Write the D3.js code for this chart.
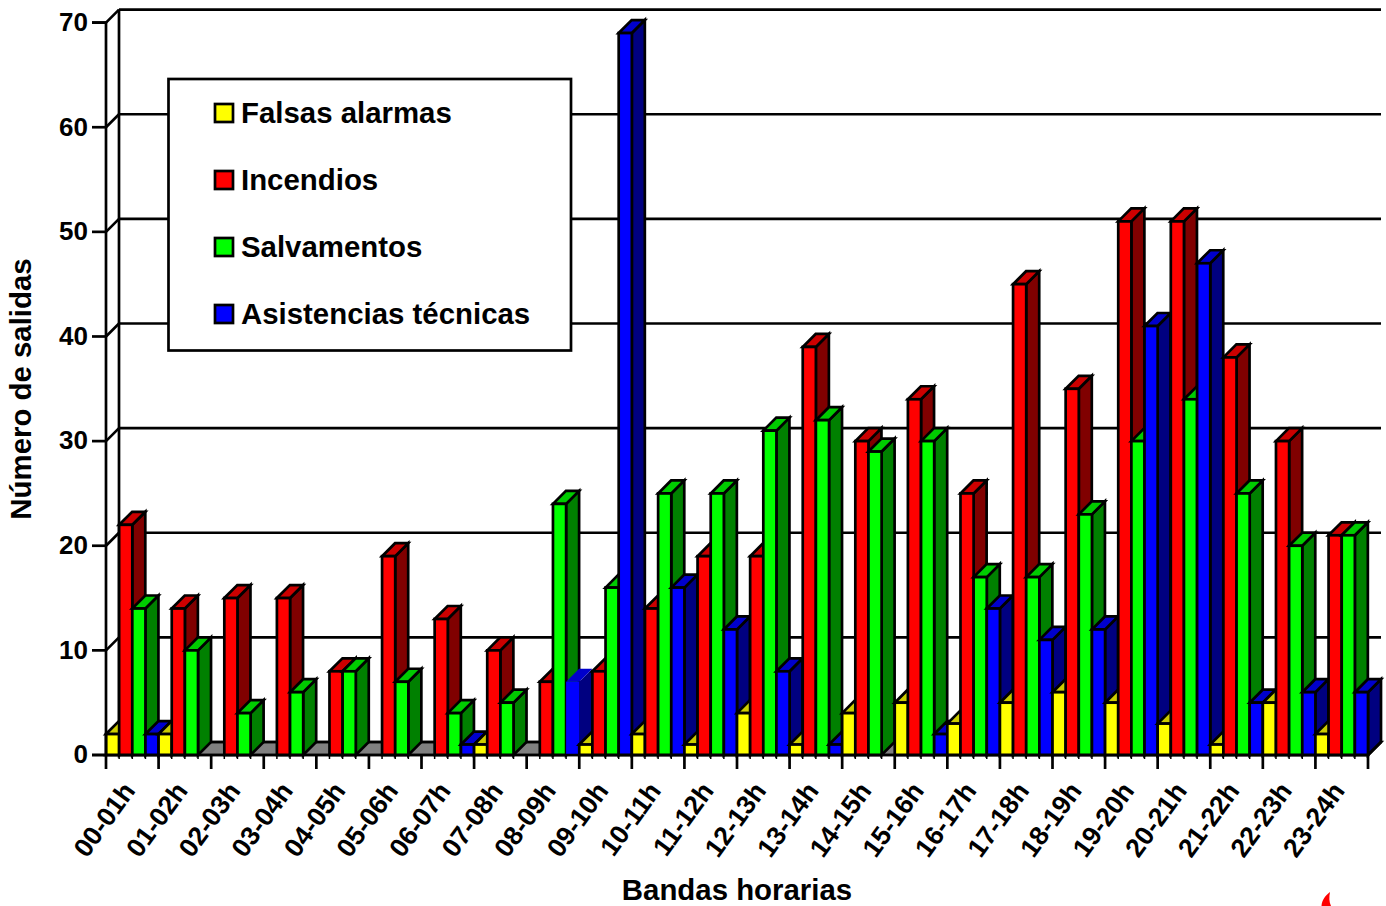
<!DOCTYPE html>
<html>
<head>
<meta charset="utf-8">
<script src="https://cdn.jsdelivr.net/npm/d3@7"></script>
<style>
    html, body { margin: 0; padding: 0; background: #fff; overflow: hidden; }
    text { font-family: "Liberation Sans", Arial, sans-serif; font-weight: bold; fill: #000; }
</style>
</head>
<body>
<svg id="chart" width="1386" height="906"></svg>
<script>
const bandas = ["00-01h", "01-02h", "02-03h", "03-04h", "04-05h", "05-06h", "06-07h", "07-08h",
    "08-09h", "09-10h", "10-11h", "11-12h", "12-13h", "13-14h", "14-15h", "15-16h",
    "16-17h", "17-18h", "18-19h", "19-20h", "20-21h", "21-22h", "22-23h", "23-24h"];

const series = ["Falsas alarmas", "Incendios", "Salvamentos", "Asistencias técnicas"];

const falsasAlarmas = [2, 2, 0, 0, 0, 0, 0, 1, 0, 1, 2, 1, 4, 1, 4, 5, 3, 5, 6, 5, 3, 1, 5, 2];
const incendios = [22, 14, 15, 15, 8, 19, 13, 10, 7, 8, 14, 19, 19, 39, 30, 34, 25, 45, 35, 51, 51, 38, 30, 21];
const salvamentos = [14, 10, 4, 6, 8, 7, 4, 5, 24, 16, 25, 25, 31, 32, 29, 30, 17, 17, 23, 30, 34, 25, 20, 21];
const asistencias = [2, 0, 0, 0, 0, 0, 1, 0, 7, 69, 16, 12, 8, 1, 0, 2, 14, 11, 12, 41, 47, 5, 6, 6];

const valores = [falsasAlarmas, incendios, salvamentos, asistencias];
const colores = ["#ffff00", "#ff0000", "#00ff00", "#0000ff"];
const coloresTapa = ["#cccc00", "#cc0000", "#00cc00", "#0000cc"];
const coloresLado = ["#808000", "#800000", "#008000", "#000080"];

const svg = d3.select("#chart");

// plot frame, the 3D depth is the same in x and y
const plotLeft = 106, plotRight = 1368, plotBottom = 755, plotTop = 22.6;
const depth = 13;
const lineW = 2.7;

const x = d3.scaleBand().domain(bandas).range([plotLeft, plotRight]);
const xSerie = d3.scaleBand().domain(series).range([0, x.bandwidth()]);
const xLinear = d3.scaleLinear().domain([0, bandas.length]).range([plotLeft, plotRight]);
const y = d3.scaleLinear().domain([0, 70]).range([plotBottom, plotTop]);

const poly = pts => pts.map(p => p.join(",")).join(" ");

// floor
svg.append("polygon")
    .attr("points", poly([[plotLeft, plotBottom], [plotLeft + depth, plotBottom - depth], [plotRight + depth, plotBottom - depth], [plotRight, plotBottom]]))
    .attr("fill", "#808080")
    .attr("stroke", "#000")
    .attr("stroke-width", lineW);

// back wall grid and the slanted joins on the left wall
const yTicks = y.ticks(7);
svg.append("g").selectAll("line.grid")
    .data(yTicks)
    .join("line")
    .attr("class", "grid")
    .attr("x1", plotLeft + depth).attr("x2", plotRight + depth)
    .attr("y1", d => y(d) - depth).attr("y2", d => y(d) - depth)
    .attr("stroke", "#000").attr("stroke-width", lineW);

svg.append("g").selectAll("line.join")
    .data(yTicks)
    .join("line")
    .attr("class", "join")
    .attr("x1", plotLeft).attr("x2", plotLeft + depth)
    .attr("y1", d => y(d)).attr("y2", d => y(d) - depth)
    .attr("stroke", "#000").attr("stroke-width", lineW);

svg.append("line")
    .attr("x1", plotLeft + depth).attr("x2", plotLeft + depth)
    .attr("y1", y(70) - depth).attr("y2", y(0) - depth)
    .attr("stroke", "#000").attr("stroke-width", lineW);

// bars, painted from left to right so the later ones cover the earlier ones
const barras = d3.merge(bandas.map((b, i) => series.map((s, j) => ({ banda: b, serie: s, j: j, valor: valores[j][i] }))))
    .filter(d => d.valor > 0);

const barra = svg.append("g").selectAll("g")
    .data(barras)
    .join("g")
    // the blue 08-09h bar has no outline in the original
    .attr("stroke", d => (d.banda === "08-09h" && d.j === 3) ? "none" : "#000")
    .attr("stroke-width", lineW);

barra.append("polygon")
    .attr("fill", d => coloresLado[d.j])
    .attr("points", d => {
        const x1 = x(d.banda) + xSerie(d.serie) + xSerie.bandwidth();
        return poly([[x1, y(d.valor)], [x1 + depth, y(d.valor) - depth], [x1 + depth, y(0) - depth], [x1, y(0)]]);
    });

barra.append("polygon")
    .attr("fill", d => coloresTapa[d.j])
    .attr("points", d => {
        const x0 = x(d.banda) + xSerie(d.serie), x1 = x0 + xSerie.bandwidth();
        return poly([[x0, y(d.valor)], [x0 + depth, y(d.valor) - depth], [x1 + depth, y(d.valor) - depth], [x1, y(d.valor)]]);
    });

barra.append("rect")
    .attr("fill", d => colores[d.j])
    .attr("x", d => x(d.banda) + xSerie(d.serie))
    .attr("y", d => y(d.valor))
    .attr("width", xSerie.bandwidth())
    .attr("height", d => y(0) - y(d.valor));

// axes
const axisY = svg.append("g")
    .attr("transform", `translate(${plotLeft},0)`)
    .call(d3.axisLeft(y).ticks(7).tickSize(14).tickPadding(4).offset(0));
axisY.selectAll("path").attr("stroke", "#000").attr("stroke-width", lineW);
axisY.selectAll("line").attr("stroke", "#000").attr("stroke-width", lineW);
axisY.selectAll("text").style("font-size", "26px");

const axisMinor = svg.append("g")
    .attr("transform", `translate(0,${plotBottom})`)
    .call(d3.axisBottom(xLinear).tickValues(d3.range(0, 24, 0.25)).tickSize(4).tickFormat("").offset(0));
axisMinor.selectAll("line").attr("stroke", "#000").attr("stroke-width", 1.5);
axisMinor.select("path").remove();

const axisX = svg.append("g")
    .attr("transform", `translate(0,${plotBottom})`)
    .call(d3.axisBottom(xLinear).ticks(24).tickSize(14).tickSizeOuter(0).tickFormat("").offset(0));
axisX.selectAll("path").attr("stroke", "#000").attr("stroke-width", lineW);
axisX.selectAll("line").attr("stroke", "#000").attr("stroke-width", lineW);

const axisLabels = svg.append("g")
    .attr("transform", `translate(0,${plotBottom})`)
    .call(d3.axisBottom(x).tickSize(0).tickPadding(0).offset(0));
axisLabels.select("path").remove();
axisLabels.selectAll("text")
    .style("font-size", "26.5px")
    .attr("text-anchor", "end")
    .attr("dy", 0)
    .attr("y", 0)
    .attr("transform", "translate(4,36) rotate(-54)");

// right end of the floor
svg.append("line")
    .attr("x1", plotRight).attr("x2", plotRight + depth)
    .attr("y1", plotBottom).attr("y2", plotBottom - depth)
    .attr("stroke", "#000").attr("stroke-width", lineW);

// titles
svg.append("text")
    .attr("x", 737).attr("y", 900)
    .attr("text-anchor", "middle")
    .style("font-size", "29.4px")
    .text("Bandas horarias");

svg.append("text")
    .attr("transform", "translate(31,389) rotate(-90)")
    .attr("text-anchor", "middle")
    .style("font-size", "29.4px")
    .text("Número de salidas");

// legend
svg.append("rect")
    .attr("x", 168.5).attr("y", 79)
    .attr("width", 402.5).attr("height", 271.5)
    .attr("fill", "#fff").attr("stroke", "#000").attr("stroke-width", lineW);

const leyendaY = d3.scalePoint().domain(series).range([113, 314]);
const leyenda = svg.append("g").selectAll("g")
    .data(series)
    .join("g")
    .attr("transform", d => `translate(0,${leyendaY(d)})`);

leyenda.append("rect")
    .attr("x", 215).attr("y", -9)
    .attr("width", 18).attr("height", 18)
    .attr("fill", (d, i) => colores[i])
    .attr("stroke", "#000").attr("stroke-width", lineW);

leyenda.append("text")
    .attr("x", 241).attr("y", 10)
    .style("font-size", "29.4px")
    .text(d => d);

// red flame of the logo, cut by the bottom of the page
svg.append("path")
    .attr("d", "M1330,892 C1325,896 1322,900 1321.5,906 L1331,906 C1329,902 1329,897 1330,892Z")
    .attr("fill", "#ff0000");
</script>
</body>
</html>
